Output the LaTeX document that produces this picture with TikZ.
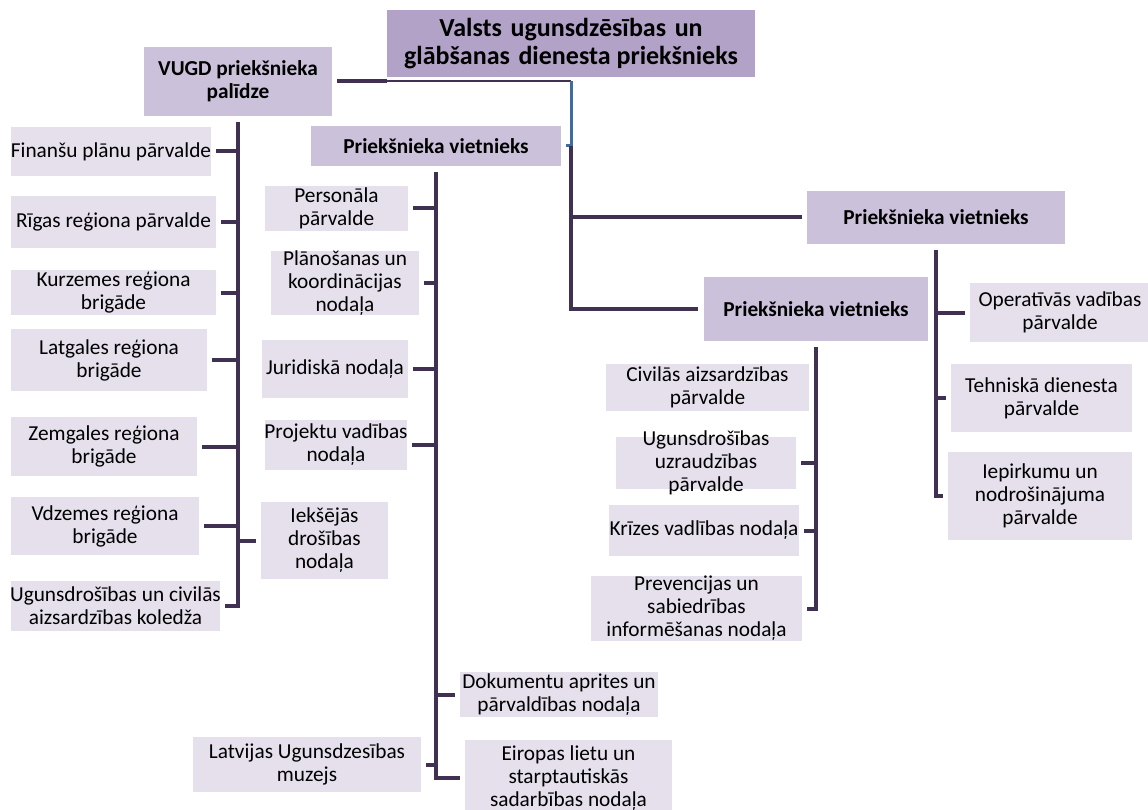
\documentclass[tikz,border=0pt]{standalone}
\usepackage{fontspec}
\setmainfont{Carlito}
\definecolor{topc}{HTML}{B3A2C7}
\definecolor{midc}{HTML}{CCC1DA}
\definecolor{leafc}{HTML}{E5E0EC}
\definecolor{linec}{HTML}{403152}
\definecolor{bluec}{HTML}{3E6CA0}
\newcommand\wsp{\hspace{0.33em}}
\newcommand\bx[8]{%
  \node[#2, minimum width={(#5-#3)*1pt}, minimum height={(#6-#4)*1pt}] (#1) at (#3,#4) {};
  \node[txt, font=#8] (#1-t) at (#1.center) {#7};
}
\tikzset{
  box/.style={draw=none, inner sep=0pt, outer sep=0pt, anchor=north west},
  topbox/.style={box, fill=topc},
  midbox/.style={box, fill=midc},
  leafbox/.style={box, fill=leafc},
  txt/.style={align=center, inner sep=0pt, text=black},
  conn/.style={draw=linec, line width=4pt},
  thinconn/.style={draw=linec, line width=2pt},
  blueconn/.style={draw=bluec, line width=3pt},
}
\newcommand\leaffont{\fontsize{21.3}{23}\selectfont}
\newcommand\midfont{\fontsize{21.3}{23}\selectfont\bfseries}
\newcommand\topfont{\fontsize{26}{28.5}\selectfont\bfseries}
\begin{document}
\begin{tikzpicture}[x=1pt,y=-1pt]
\useasboundingbox (0,0) rectangle (1148,810);
% boxes
\bx{top}{topbox}{387}{10}{755}{77}{Valsts\wsp ugunsdzēsības\wsp un\\glābšanas\wsp dienesta priekšnieks}{\topfont}
\bx{vugd}{midbox}{144}{47}{332}{116}{VUGD priekšnieka\\palīdze}{\midfont}
\bx{pv1}{midbox}{311}{126}{561}{166}{Priekšnieka vietnieks}{\midfont}
\bx{pv2}{midbox}{807}{191}{1065}{244}{Priekšnieka vietnieks}{\midfont}
\bx{pv3}{midbox}{704}{277}{928}{341}{Priekšnieka vietnieks}{\midfont}
% left column
\bx{fin}{leafbox}{11}{127}{211}{176}{Finanšu plānu pārvalde}{\leaffont}
\bx{rig}{leafbox}{11}{196}{216}{248}{Rīgas reģiona pārvalde}{\leaffont}
\bx{kur}{leafbox}{11}{270}{216}{315}{Kurzemes reģiona\\brigāde}{\leaffont}
\bx{lat}{leafbox}{11}{329}{207}{391}{Latgales reģiona\\brigāde}{\leaffont}
\bx{zem}{leafbox}{11}{417}{197}{476}{Zemgales reģiona\\brigāde}{\leaffont}
\bx{vdz}{leafbox}{11}{497}{199}{555}{Vdzemes reģiona\\brigāde}{\leaffont}
\bx{kol}{leafbox}{11}{581}{220}{631}{Ugunsdrošības un civilās\\aizsardzības koledža}{\leaffont}
\bx{iek}{leafbox}{261}{502}{388}{579}{Iekšējās\\drošības\\nodaļa}{\leaffont}
% middle column
\bx{per}{leafbox}{265}{186}{408}{231}{Personāla\\pārvalde}{\leaffont}
\bx{pla}{leafbox}{271}{251}{419}{315}{Plānošanas un\\koordinācijas\\nodaļa}{\leaffont}
\bx{jur}{leafbox}{262}{340}{408}{398}{Juridiskā nodaļa}{\leaffont}
\bx{pro}{leafbox}{265}{420}{407}{470}{Projektu vadības\\nodaļa}{\leaffont}
\bx{dok}{leafbox}{460}{672}{658}{717}{Dokumentu aprites un\\pārvaldības nodaļa}{\leaffont}
\bx{muz}{leafbox}{193}{737}{421}{792}{Latvijas Ugunsdzesības\\muzejs}{\leaffont}
\bx{eir}{leafbox}{465}{740}{672}{816}{Eiropas lietu un\\starptautiskās\\sadarbības nodaļa}{\leaffont}
% lower right column
\bx{civ}{leafbox}{606}{364}{809}{411}{Civilās aizsardzības\\pārvalde}{\leaffont}
\bx{ugu}{leafbox}{616}{437}{796}{489}{Ugunsdrošības\\uzraudzības\\pārvalde}{\leaffont}
\bx{kri}{leafbox}{609}{505}{799}{556}{Krīzes vadlības nodaļa}{\leaffont}
\bx{pre}{leafbox}{591}{576}{802}{641}{Prevencijas un\\sabiedrības\\informēšanas nodaļa}{\leaffont}
% right column
\bx{ope}{leafbox}{970}{283}{1150}{342}{Operatīvās vadības\\pārvalde}{\leaffont}
\bx{teh}{leafbox}{951}{364}{1132}{432}{Tehniskā dienesta\\pārvalde}{\leaffont}
\bx{iep}{leafbox}{948}{452}{1132}{540}{Iepirkumu un\\nodrošinājuma\\pārvalde}{\leaffont}
% top connectors
\draw[conn] ([xshift=5pt]vugd.east) -- (vugd.east -| top.west);
\draw[thinconn] (vugd.east -| top.west) -- (vugd.east -| top.south);
\draw[blueconn] (vugd.east -| top.south) -- (pv1.east -| top.south);
\draw[blueconn] ([xshift=5pt]pv1.east) -- (pv1.east -| top.south);
\draw[conn] (pv1.east -| top.south) |- ([xshift=-6pt]pv3.west);
\draw[conn] (pv2.west -| top.south) -- ([xshift=-5pt]pv2.west);
% left column connectors
\draw[conn] ([yshift=-6pt]vugd.south) |- ([xshift=5pt]kol.east);
\foreach \n in {fin,rig,kur,lat,zem,vdz}
  \draw[conn] ([xshift=5pt]\n.east) -- (\n.east -| vugd.south);
\draw[conn] ([xshift=-5pt]iek.west) -- (iek.west -| vugd.south);
% middle column connectors
\draw[conn] ([yshift=-6pt]pv1.south) |- ([xshift=-5pt]eir.west);
\foreach \n in {per,pla,jur,pro,muz}
  \draw[conn] ([xshift=5pt]\n.east) -- (\n.east -| pv1.south);
\draw[conn] ([xshift=-5pt]dok.west) -- (dok.west -| pv1.south);
% lower right connectors
\draw[conn] ([yshift=-6pt]pv3.south) |- ([xshift=5pt]pre.east);
\foreach \n in {ugu,kri}
  \draw[conn] ([xshift=5pt]\n.east) -- (\n.east -| pv3.south);
% right connectors
\draw[conn] ([yshift=-6pt]pv2.south) |- ([xshift=-5pt]iep.west);
\foreach \n in {ope,teh}
  \draw[conn] ([xshift=-5pt]\n.west) -- (\n.west -| pv2.south);
\end{tikzpicture}
\end{document}
